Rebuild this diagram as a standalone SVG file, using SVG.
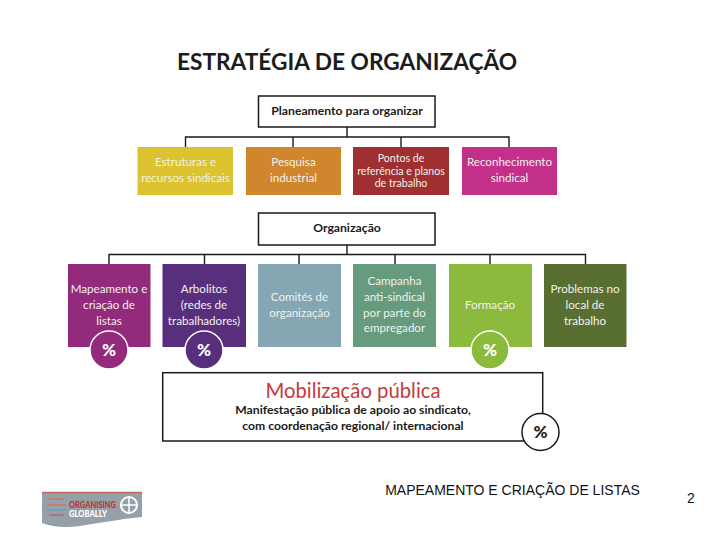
<svg xmlns="http://www.w3.org/2000/svg" width="720" height="540" viewBox="0 0 720 540">
<style>
text{font-family:"Lato","Carlito","Open Sans",sans-serif;text-anchor:middle}
.t{font-size:11.6px;fill:#f1f1ec}
.s{font-size:10.600px;fill:#f1f1ec}
.h{font-size:12.2px;font-weight:700;fill:#1a1a1a}
.f{fill:#fff;stroke:#1a1a1a;stroke-width:1.5}
.c{fill:none;stroke:#1a1a1a;stroke-width:1.4}
.ring{stroke:#fff;stroke-width:1.5}
.p{font-size:17px;font-weight:900;fill:#fff}
.a{font-family:"Liberation Sans",Arial,sans-serif;font-size:14px;fill:#111}
</style>
<rect width="720" height="540" fill="#fff"/>
<text id="title" x="347" y="70" style="font-size:22.700px;font-weight:700;fill:#1c1c1c">ESTRATÉGIA DE ORGANIZAÇÃO</text>
<g id="connectors">
<path class="c" d="M347 127V137M185.500 147V137H509V147M293 137V147M401 137V147"/>
<path class="c" d="M347 245V254.500M109 264V254.500H585.500V264M204.500 254.500V264M299 254.500V264M395 254.500V264M490 254.500V264"/>
</g>
<g id="n-planeamento"><rect class="f" x="258.500" y="96" width="176.500" height="31"/><text class="h" x="347" y="115">Planeamento para organizar</text></g>
<g id="n-estruturas"><rect x="137.500" y="147" width="95.500" height="48" fill="#dcc32f"/><text class="t" x="185.500" y="166">Estruturas e</text><text class="t" x="185.500" y="182">recursos sindicais</text></g>
<g id="n-pesquisa"><rect x="246" y="147" width="95" height="48" fill="#d0862c"/><text class="t" x="293.500" y="166">Pesquisa</text><text class="t" x="293.500" y="182">industrial</text></g>
<g id="n-pontos"><rect x="353" y="147" width="96" height="48" fill="#9f2f30"/><text class="s" x="401" y="162">Pontos de</text><text class="s" x="401" y="174.500">referência e planos</text><text class="s" x="401" y="186.500">de trabalho</text></g>
<g id="n-reconhecimento"><rect x="462" y="147" width="95" height="48" fill="#c2308a"/><text class="t" x="509.500" y="166">Reconhecimento</text><text class="t" x="509.500" y="182">sindical</text></g>
<g id="n-organizacao"><rect class="f" x="258.500" y="213" width="176.500" height="32"/><text class="h" x="347" y="232">Organização</text></g>
<g id="n-mapeamento"><rect x="68" y="264" width="82.500" height="83" fill="#932a7b"/><text class="t" x="109" y="293">Mapeamento e</text><text class="t" x="109" y="309">criação de</text><text class="t" x="109" y="325">listas</text><circle class="ring" cx="109" cy="350" r="19" fill="#932a7b"/><text class="p" x="109" y="356">%</text></g>
<g id="n-arbolitos"><rect x="162.500" y="264" width="83.500" height="83" fill="#582f7c"/><text class="t" x="204" y="293">Arbolitos</text><text class="t" x="204" y="309">(redes de</text><text class="t" x="204" y="325">trabalhadores)</text><circle class="ring" cx="204" cy="350" r="19" fill="#582f7c"/><text class="p" x="204" y="356">%</text></g>
<g id="n-comites"><rect x="258" y="264" width="83" height="83" fill="#85a6b3"/><text class="t" x="299.500" y="301">Comités de</text><text class="t" x="299.500" y="317">organização</text></g>
<g id="n-campanha"><rect x="353" y="264" width="83" height="83" fill="#669b7d"/><text class="t" x="394.500" y="285">Campanha</text><text class="t" x="394.500" y="301">anti-sindical</text><text class="t" x="394.500" y="317">por parte do</text><text class="t" x="394.500" y="332">empregador</text></g>
<g id="n-formacao"><rect x="449" y="264" width="83" height="83" fill="#8cba3c"/><text class="t" x="490" y="309">Formação</text><circle class="ring" cx="490" cy="350" r="19" fill="#8cba3c"/><text class="p" x="490" y="356">%</text></g>
<g id="n-problemas"><rect x="544" y="264" width="82.500" height="83" fill="#586f31"/><text class="t" x="585" y="293">Problemas no</text><text class="t" x="585" y="309">local de</text><text class="t" x="585" y="325">trabalho</text></g>
<g id="n-mobilizacao"><rect class="f" x="162.700" y="372.700" width="380" height="68.300"/><text x="353" y="398" style="font-size:20.300px;fill:#c5393c">Mobilização pública</text><text class="h" x="353" y="414">Manifestação pública de apoio ao sindicato,</text><text class="h" x="353" y="430">com coordenação regional/ internacional</text><circle cx="540.500" cy="432" r="18.500" fill="#fff" stroke="#1a1a1a" stroke-width="1.500"/><text x="540.500" y="438" style="font-size:17px;font-weight:900;fill:#222">%</text></g>
<g id="logo"><path d="M42 492.500H142V517C120 519 100 523 80 526C66 528 52 527 42 523Z" fill="#96a0a8"/><path d="M42 492.500H142" stroke="#c0675a" stroke-width="1.500"/><path d="M49 499H64M47 505H66" stroke="#c9785a" stroke-width="1.500" fill="none"/><path d="M47 510H66" stroke="#58a9b5" stroke-width="1.500"/><path d="M49 515H64" stroke="#b5666a" stroke-width="1.500"/><text x="92.500" y="508" textLength="47" lengthAdjust="spacingAndGlyphs" style="font-size:8.500px;font-weight:900;fill:#b83a32">ORGANISING</text><text x="88" y="516.500" textLength="38" lengthAdjust="spacingAndGlyphs" style="font-size:8.500px;font-weight:900;fill:#fff">GLOBALLY</text><circle cx="129" cy="505" r="8" fill="none" stroke="#fff" stroke-width="2"/><path d="M129 498V512M122 505H136" stroke="#fff" stroke-width="1.500"/></g>
<text class="a" x="512.500" y="495">MAPEAMENTO E CRIAÇÃO DE LISTAS</text>
<text class="a" x="691" y="503">2</text>
</svg>
